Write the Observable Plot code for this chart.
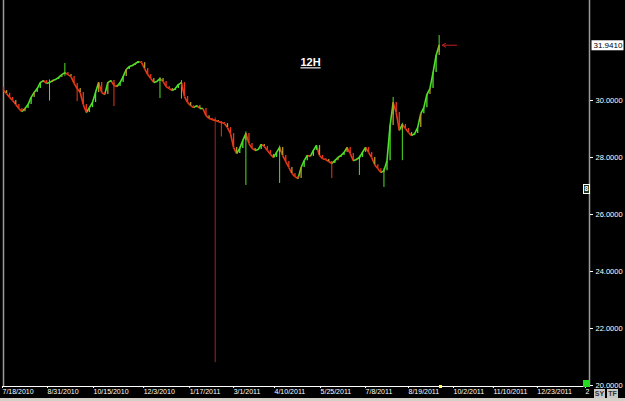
<!DOCTYPE html>
<html><head><meta charset="utf-8">
<script src="https://cdn.jsdelivr.net/npm/d3@7"></script>
<script src="https://cdn.jsdelivr.net/npm/@observablehq/plot@0.6"></script>
<style>
html,body{margin:0;padding:0;background:#000;overflow:hidden}
#wrap{position:relative;width:625px;height:401px}
#wrap svg{display:block}
.strip{position:absolute;left:0;top:398px;width:625px;height:3px;background:#d4d0c8}
.btn{position:absolute;top:389px;height:9px;width:11px;background:#c8c8c8;color:#333;font:bold 7px 'Liberation Sans';text-align:center;line-height:9px}
.gsq{position:absolute;left:583px;top:380px;width:7px;height:7px;background:#22dd22}
.ysq{position:absolute;left:439px;top:385px;width:3px;height:3px;background:#ffff66}
.ico{position:absolute;left:583px;top:184px;width:5px;height:8px;border:1px solid #fff;background:#1c3a1c;color:#fff;font:bold 7px 'Liberation Sans';line-height:8px;text-align:center}
</style></head><body><div id="wrap"></div>
<script>
// ---- data ----
const startDate = "2010-07-18";      // first 12H bar sample
const stepDays = 3;                   // sampling step between bars
const firstOpen = 30.45;
const closes = [
30.35,30.25,30.11,30.00,29.86,29.72,29.61,29.72,29.86,30.11,
30.28,30.42,30.63,30.70,30.60,30.63,30.70,30.74,30.81,30.91,
30.98,30.91,30.84,30.60,30.42,30.28,29.86,29.58,29.75,29.93,
30.28,30.63,30.28,30.21,30.63,30.70,30.53,30.49,30.63,30.84,
31.09,31.19,31.23,31.30,31.37,31.33,31.12,30.91,30.77,30.63,
30.67,30.77,30.67,30.49,30.42,30.35,30.42,30.56,30.63,30.14,
29.93,29.82,29.75,29.82,29.72,29.72,29.47,29.37,29.33,29.30,
29.26,29.23,29.19,29.05,28.84,28.35,28.14,28.32,28.60,28.84,
28.49,28.32,28.25,28.28,28.46,28.39,28.25,28.11,28.00,28.18,
28.35,28.07,27.86,27.65,27.44,27.33,27.26,27.65,27.89,28.07,
28.04,28.25,28.42,28.07,27.96,27.93,27.86,27.79,27.89,28.00,
28.07,28.18,28.35,28.14,27.89,27.93,28.00,28.18,28.35,28.18,
28.00,27.75,27.61,27.47,27.54,27.89,29.12,29.93,29.58,28.95,
29.16,29.02,28.88,28.77,28.84,29.05,29.54,29.75,30.21,30.42,
30.98,31.58,31.941];
const wickIndex = [15,20,24,36,51,58,69,71,79,90,107,116,124,127,130,142];
const wickLow   = [29.98,30.85,29.96,29.79,30.07,30.05,20.80,28.72,27.02,27.09,27.26,27.37,26.95,29.50,27.89,31.70];
const wickHigh  = [30.72,31.30,30.50,30.60,30.80,30.70,29.40,29.25,28.90,28.40,27.85,28.05,27.60,30.11,29.20,32.28];
const xTickDates  = ["2010-07-18","2010-08-31","2010-10-15","2010-12-03","2011-01-17","2011-03-01","2011-04-10","2011-05-25","2011-07-08","2011-08-19","2011-10-02","2011-11-10","2011-12-23","2012-02-08"];
const xTickLabels = ["7/18/2010","8/31/2010","10/15/2010","12/3/2010","1/17/2011","3/1/2011","4/10/2011","5/25/2011","7/8/2011","8/19/2011","10/2/2011","11/10/2011","12/23/2011","2"];
const yTicks = [20,22,24,26,28,30];
const xDomainDates = ["2010-07-18","2012-02-11"];
const yDomainVals = [19.965, 33.51];
const title = "12H";

// ---- build ----
const t0 = new Date(startDate);
const bars = closes.map((c,i)=>({
  date: d3.utcDay.offset(t0, stepDays*i),
  open: i ? closes[i-1] : firstOpen,
  close: c
}));
const segs = bars.slice(1).map((b,i)=>({d1: bars[i].date, c1: bars[i].close, d2: b.date, c2: b.close, up: b.close >= bars[i].close}));
const wicks = wickIndex.map((k,j)=>({date: bars[k].date, low: wickLow[j], high: wickHigh[j], up: bars[k].close >= bars[k].open, big: wickHigh[j]-wickLow[j] > 3}));
const last = bars[bars.length-1];
const xTicks = xTickDates.map(d=>new Date(d));
const labelMap = new Map(xTicks.map((d,i)=>[+d, xTickLabels[i]]));
const xDomain = xDomainDates.map(d=>new Date(d));
const UP = "#4fe02a", DOWN = "#e8381a", MIX = "#b89a22";

const chart = Plot.plot({
  width: 625, height: 398,
  marginLeft: 3, marginRight: 36, marginTop: 0, marginBottom: 12,
  style: {background:"#000", color:"#fff", fontFamily:"'Liberation Sans', Arial, sans-serif", fontSize:"7px"},
  x: {type:"utc", domain: xDomain},
  y: {domain: yDomainVals},
  marks: [
    Plot.ruleX([xDomain[0]], {stroke:"#9a9a9a", strokeWidth:1.5}),
    Plot.ruleX([xDomain[1]], {stroke:"#9a9a9a", strokeWidth:1.5}),
    Plot.ruleY([yDomainVals[0]], {stroke:"#fff", strokeWidth:1}),
    Plot.axisX({ticks: xTicks, tickFormat: d=>labelMap.get(+d), anchor:"bottom", tickSize:2, tickPadding:1, textAnchor:"start", dx:-1, stroke:"#fff", fill:"#fff", label:null, fontSize:7}),
    Plot.axisY({ticks: yTicks, tickFormat: d3.format(".4f"), anchor:"right", tickSize:3, tickPadding:3, stroke:"#fff", fill:"#fff", label:null, fontSize:7.5}),
    Plot.ruleX(wicks, {x:"date", y1:"low", y2:"high", stroke: d=> d.big ? "#a82222" : (d.up ? UP : DOWN), strokeWidth:1}),
    Plot.link(segs, {x1:"d1", y1:"c1", x2:"d2", y2:"c2", stroke: d=> d.up ? UP : DOWN, strokeWidth:1.6}),
    Plot.ruleX(bars, {x:"date", y1:"open", y2:"close", stroke: (d,i)=> i % 3 === 1 ? MIX : (d.close>=d.open ? UP : DOWN), strokeWidth:1.3}),
    Plot.text([title], {frameAnchor:"top", dx:14, dy:58, lineAnchor:"top", fill:"#fff", fontWeight:"bold", fontSize:11, className:"ttl"}),
    Plot.arrow([last], {x1: d=>d3.utcDay.offset(d.date, 17), x2: d=>d3.utcDay.offset(d.date, 3), y1:"close", y2:"close", stroke:"#c0201f", strokeWidth:1, headLength:6}),
    Plot.text([last], {x: ()=>xDomain[1], y:"close", text: d=>d3.format(".4f")(d.close), textAnchor:"start", dx:4, fill:"#000", fontSize:8, className:"pbox"})
  ]
});
const wrap = document.getElementById("wrap");
wrap.appendChild(chart);
d3.select(chart).selectAll(".ttl text").style("text-decoration","underline");
d3.select(chart).selectAll(".pbox text").each(function(){
  const b = this.getBBox();
  d3.select(this.parentNode).insert("rect", () => this)
    .attr("transform", this.getAttribute("transform"))
    .attr("x", b.x-2).attr("y", b.y-0.5).attr("width", 32).attr("height", b.height+1)
    .attr("fill","#fff");
});
wrap.insertAdjacentHTML("beforeend",
  '<div class="strip"></div><div class="btn" style="left:594px">SY</div><div class="btn" style="left:607px">TF</div><div class="gsq"></div><div class="ysq"></div><div class="ico">8</div>');
</script>
</body></html>
